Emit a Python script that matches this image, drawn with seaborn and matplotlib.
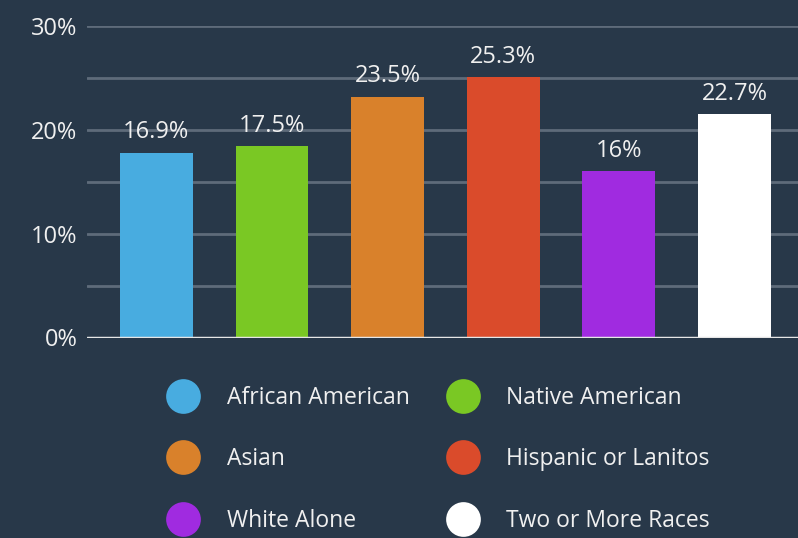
import matplotlib as mpl
mpl.use("Agg")
import matplotlib.pyplot as plt
from matplotlib.lines import Line2D
import seaborn as sns
import pandas as pd

groups = ["African American", "Native American", "Asian",
          "Hispanic or Lanitos", "White Alone", "Two or More Races"]
bar_heights = [17.8, 18.4, 23.2, 25.1, 16.0, 21.5]
bar_labels = ["16.9%", "17.5%", "23.5%", "25.3%", "16%", "22.7%"]
colors = ["#48ACE0", "#7AC824", "#D9812B", "#DA4B2B", "#A02BE0", "#FFFFFF"]

bg = "#283849"
txt = "#F0F0F0"

sns.set_theme(style="dark")
plt.rcParams["font.family"] = ["Open Sans", "DejaVu Sans"]

df = pd.DataFrame({"group": groups, "value": bar_heights})

fig = plt.figure(figsize=(7.98, 5.38), dpi=100, facecolor=bg)
ax = fig.add_axes([87 / 798, 1 - 337.5 / 538, 1 - 87 / 798, (337.5 - 26) / 538])
ax.set_facecolor(bg)

sns.barplot(data=df, x="group", y="value", hue="group", palette=colors,
            width=0.63, legend=False, saturation=1, linewidth=0, ax=ax, zorder=3)

ax.set_xlim(-0.6, 5.55)
ax.set_ylim(0, 30)
ax.set_yticks([0, 10, 20, 30])
ax.set_yticklabels(["0%", "10%", "20%", "30%"])
ax.set_yticks([5, 15, 25], minor=True)
ax.grid(axis="y", which="both", color="#5E6B7A", linewidth=2, zorder=0)
ax.grid(axis="x", visible=False)
ax.axhline(0, color="#E6E6E6", linewidth=2.5, zorder=4)
ax.tick_params(axis="y", which="both", length=0, pad=7, labelsize=17, labelcolor=txt)
ax.set_xticks([])
ax.set_xlabel("")
ax.set_ylabel("")
for s in ax.spines.values():
    s.set_visible(False)

for i, cont in enumerate(ax.containers):
    ax.bar_label(cont, labels=[bar_labels[i]], padding=6, fontsize=17, color=txt)

handles = [Line2D([], [], marker="o", linestyle="", markersize=25,
                  markerfacecolor=c, markeredgewidth=0) for c in colors]
order = [0, 2, 4, 1, 3, 5]
leg = fig.legend([handles[i] for i in order], [groups[i] for i in order],
                 ncol=2, loc="upper left", bbox_to_anchor=(149 / 798, 1 - 365 / 538),
                 frameon=False, fontsize=16.5, labelcolor=txt, handletextpad=1.3,
                 columnspacing=1.7, labelspacing=1.64, handlelength=1.2)

fig.savefig("out.png", dpi=100, facecolor=bg)
